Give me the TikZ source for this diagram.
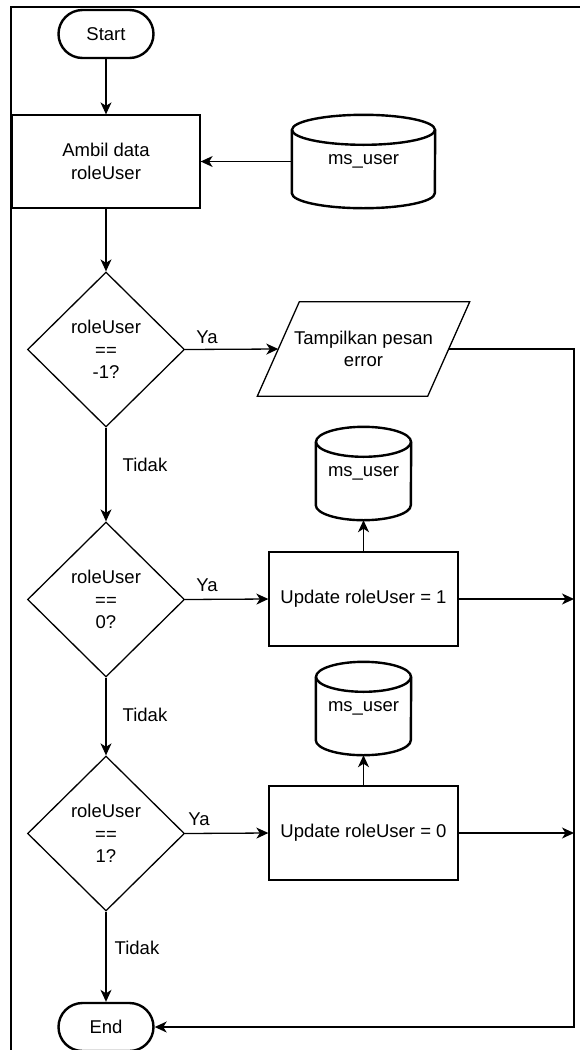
\documentclass[tikz,border=0pt]{standalone}
\usepackage{fontspec}
\setmainfont{Liberation Sans}
\usetikzlibrary{shapes.geometric,arrows.meta,calc}
\newcommand\dbdraw[2]{%
  \draw[dbline] ($(#1.north west)+(0,15)$) -- ($(#1.south west)+(0,-15)$)
    arc[start angle=180,end angle=360,x radius=#2pt,y radius=15pt]
    -- ($(#1.north east)+(0,15)$);
  \draw[dbline] ($(#1.north)+(0,15)$) ellipse[x radius=#2pt,y radius=15pt];
}
\begin{document}
\begin{tikzpicture}[x=1pt,y=-1pt,
  every node/.style={font=\fontsize{18.5}{22.5}\selectfont, text=black},
  conn/.style={line width=1.3pt, -{Stealth[length=12pt,width=11pt,inset=3.5pt]}},
  plain/.style={line width=1.3pt},
  term/.style={draw, line width=2.4pt, rounded corners=24pt, minimum width=95pt, minimum height=48pt, inner sep=0pt},
  proc/.style={draw, line width=1.3pt, minimum height=93pt, inner sep=0pt, align=center},
  dec/.style={draw, diamond, line width=1.3pt, minimum width=157pt, minimum height=155pt, inner sep=0pt, align=center},
  dbnode/.style={minimum height=93pt, inner sep=0pt},
  dbline/.style={line width=2.4pt},
  lbl/.style={inner sep=0pt},
  frameline/.style={line width=2pt}
]
\useasboundingbox (0,0) rectangle (580,1050);
\draw[frameline] (11,1052) -- (11,7) -- (580,7);

% nodes
\node[term] (start) at (106,34) {Start};
\node[proc, minimum width=188pt] (ambil) at (106,161.5) {Ambil data\\roleUser};
\node[dbnode, minimum width=143pt] (db1) at (363.5,161.5) {ms\_user};
\node[dec] (d1) at (106,349.5) {roleUser\\==\\-1?};
\node[minimum width=170pt, minimum height=94pt, inner sep=0pt, align=center] (para) at (363.5,349) {Tampilkan pesan\\error};
\node[dec] (d2) at (106,599.5) {roleUser\\==\\0?};
\node[dbnode, minimum width=95pt] (db2) at (363.5,473.5) {ms\_user};
\node[proc, minimum width=189pt, minimum height=94pt] (up1) at (363.5,599) {Update roleUser = 1};
\node[dec] (d3) at (106,833.5) {roleUser\\==\\1?};
\node[dbnode, minimum width=95pt] (db3) at (363.5,708.5) {ms\_user};
\node[proc, minimum width=189pt, minimum height=94pt] (up2) at (363.5,833) {Update roleUser = 0};
\node[term] (end) at (106,1027) {End};

% shapes drawn around text nodes
\dbdraw{db1}{71.5}
\dbdraw{db2}{47.5}
\dbdraw{db3}{47.5}
\draw[plain] ($(para.north west)+(21,0)$) -- ($(para.north east)+(21,0)$)
  -- ($(para.south east)+(-21,0)$) -- ($(para.south west)+(-21,0)$) -- cycle;

% connectors
\coordinate (rc) at (574,1027);
\draw[conn] (start.south) -- (ambil.north);
\draw[conn] (db1.west) -- (ambil.east);
\draw[conn] (ambil.south) -- (d1.north);
\draw[conn] (d1.east) -- (para.west);
\draw[conn] (d1.south) -- (d2.north);
\draw[conn] (d2.east) -- (up1.west);
\draw[conn] (up1.north) -- (db2.south);
\draw[conn] (d2.south) -- (d3.north);
\draw[conn] (d3.east) -- (up2.west);
\draw[conn] (up2.north) -- (db3.south);
\draw[conn] (d3.south) -- (end.north);
\draw[conn] (para.east) -| (rc) -- (end.east);
\draw[conn] (up1.east) -- (up1.east -| rc);
\draw[conn] (up2.east) -- (up2.east -| rc);

% labels
\node[lbl] (ya1) at (207,337) {Ya};
\node[lbl] (ya2) at (207,585) {Ya};
\node[lbl] (ya3) at (199,819) {Ya};
\node[lbl] (t1) at (145,465) {Tidak};
\node[lbl] (t2) at (145,715) {Tidak};
\node[lbl] (t3) at (137,948) {Tidak};
\end{tikzpicture}
\end{document}
